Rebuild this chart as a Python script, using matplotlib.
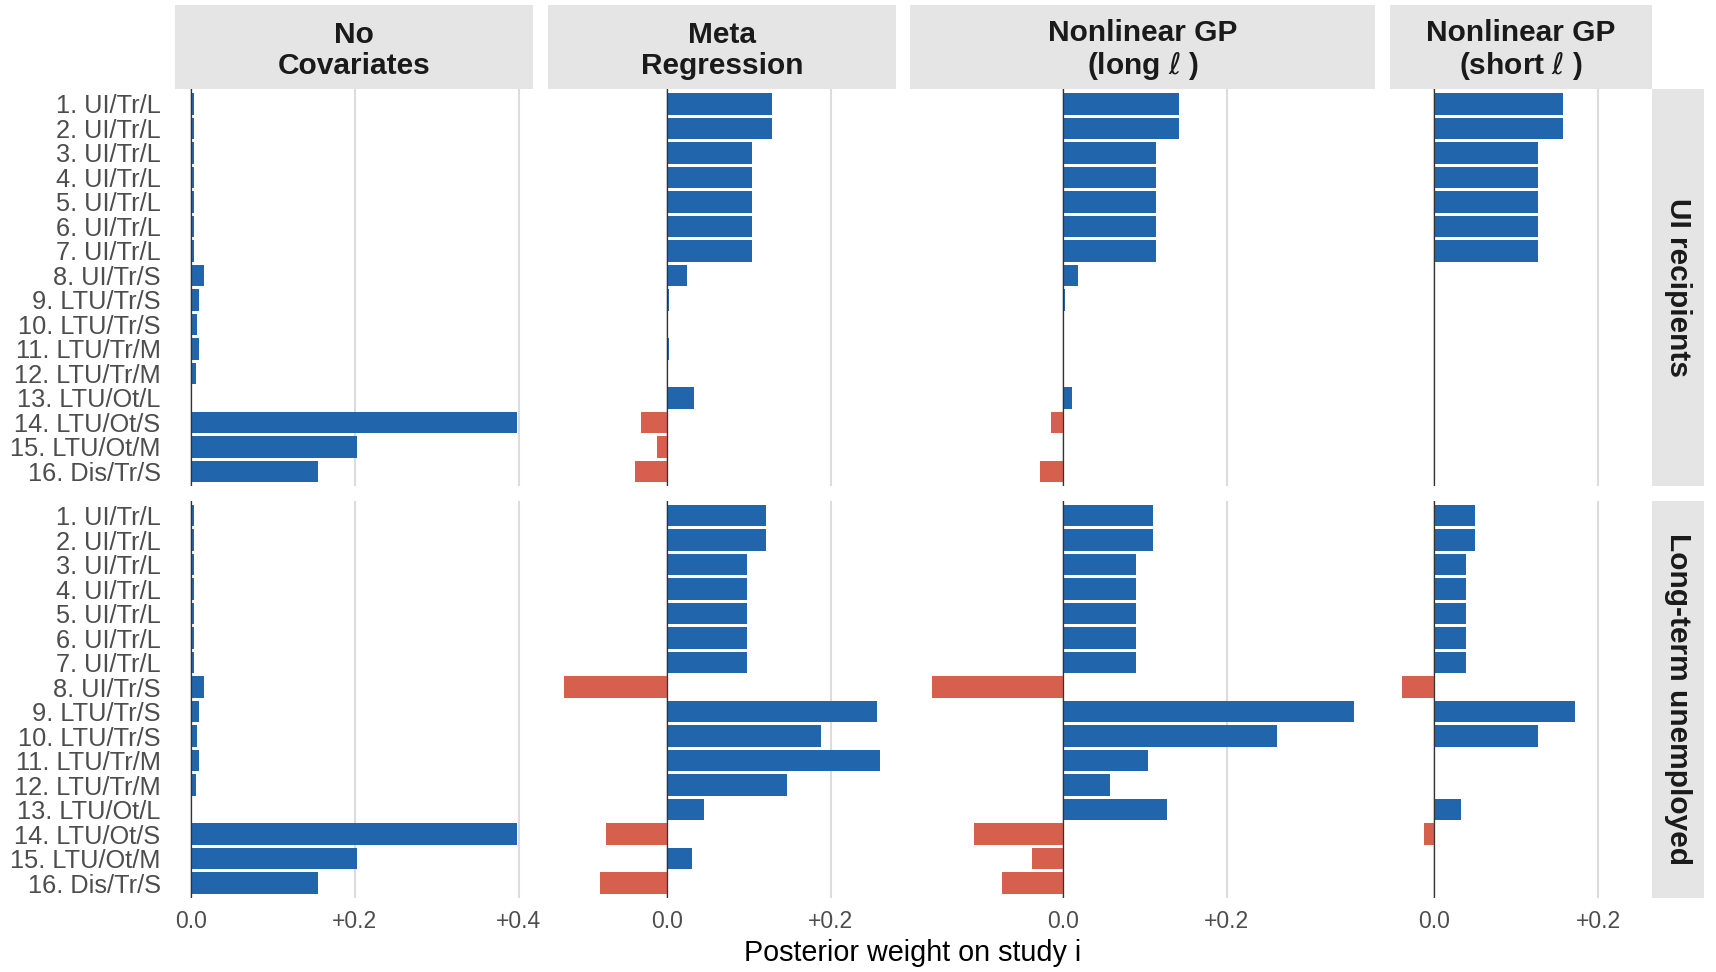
import matplotlib
matplotlib.use("Agg")
import matplotlib.pyplot as plt
from matplotlib.patches import Rectangle
from matplotlib.ticker import FuncFormatter

plt.rcParams['font.family'] = ['Liberation Sans', 'DejaVu Sans']

# ---- data ----
studies = ["1. UI/Tr/L", "2. UI/Tr/L", "3. UI/Tr/L", "4. UI/Tr/L", "5. UI/Tr/L",
           "6. UI/Tr/L", "7. UI/Tr/L", "8. UI/Tr/S", "9. LTU/Tr/S", "10. LTU/Tr/S",
           "11. LTU/Tr/M", "12. LTU/Tr/M", "13. LTU/Ot/L", "14. LTU/Ot/S",
           "15. LTU/Ot/M", "16. Dis/Tr/S"]
models = ["No\nCovariates", "Meta\nRegression", "Nonlinear GP\n(long $\\ell$ )",
          "Nonlinear GP\n(short $\\ell$ )"]
outcomes = ["UI recipients", "Long-term unemployed"]

no_cov = [0.0046, 0.0046, 0.0036, 0.0036, 0.0036, 0.0036, 0.0036, 0.016,
          0.0105, 0.0079, 0.0105, 0.0061, 0.0013, 0.398, 0.2034, 0.155]
meta_ui = [0.128, 0.128, 0.104, 0.104, 0.104, 0.104, 0.104, 0.025,
           0.002, 0.001, 0.003, 0.001, 0.033, -0.032, -0.012, -0.039]
meta_ltu = [0.121, 0.121, 0.098, 0.098, 0.098, 0.098, 0.098, -0.125,
            0.256, 0.188, 0.260, 0.146, 0.045, -0.074, 0.031, -0.082]
long_ui = [0.141, 0.141, 0.114, 0.114, 0.114, 0.114, 0.114, 0.018,
           0.002, 0.001, 0.0, 0.0, 0.011, -0.015, 0.0, -0.028]
long_ltu = [0.110, 0.110, 0.089, 0.089, 0.089, 0.089, 0.089, -0.160,
            0.355, 0.261, 0.104, 0.058, 0.127, -0.109, -0.038, -0.074]
short_ui = [0.157, 0.157, 0.127, 0.127, 0.127, 0.127, 0.127, 0.0,
            0.0, 0.0, 0.0, 0.0, 0.0, 0.0, 0.0, 0.0]
short_ltu = [0.049, 0.049, 0.039, 0.039, 0.039, 0.039, 0.039, -0.039,
             0.171, 0.126, 0.0, 0.0, 0.032, -0.013, 0.0, 0.0]

weights = [[no_cov, meta_ui, long_ui, short_ui],
           [no_cov, meta_ltu, long_ltu, short_ltu]]

# free x scales per column
xlims = [(-0.0196, 0.418), (-0.145, 0.279), (-0.186, 0.381), (-0.054, 0.265)]

BLUE = "#2166AC"
RED = "#D6604D"
STRIP = "#E5E5E5"

# ---- layout in pixels ----
W, H = 1716, 972
px_unit = 820.0
left0 = 174.5
gap = 14.7
row_tops = [89.3, 501.0]
panel_h = 396.7
strip_top = 4.7
rstrip_w = 52.5

fig = plt.figure(figsize=(W / 100, H / 100), dpi=100)

fmt = FuncFormatter(lambda v, p: "0.0" if abs(v) < 1e-9 else "%+.1f" % v)

lefts = []
x = left0
for lo, hi in xlims:
    lefts.append(x)
    x += (hi - lo) * px_unit + gap

for r in range(2):
    for c in range(4):
        lo, hi = xlims[c]
        w = (hi - lo) * px_unit
        ax = fig.add_axes([lefts[c] / W, 1 - (row_tops[r] + panel_h) / H, w / W, panel_h / H])
        vals = weights[r][c]
        cols = [RED if v < 0 else BLUE for v in vals]
        ax.barh(range(len(studies)), vals, height=0.88, color=cols, zorder=2)
        ax.axvline(0, color="#333333", lw=0.9, zorder=3)
        ax.set_xlim(lo, hi)
        ax.set_ylim(len(studies) - 0.4, -0.6)
        ax.set_xticks([t for t in (0.0, 0.2, 0.4) if lo <= t <= hi])
        ax.xaxis.set_major_formatter(fmt)
        ax.grid(axis="x", color="#DCDCDC", lw=1.5, zorder=0)
        ax.set_axisbelow(True)
        for s in ax.spines.values():
            s.set_visible(False)
        ax.tick_params(length=0, colors="#4D4D4D", labelsize=16.5)
        ax.tick_params(axis="x", pad=9)
        ax.tick_params(axis="y", pad=10, labelsize=18.3)
        ax.set_yticks(range(len(studies)))
        if c == 0:
            ax.set_yticklabels(studies)
        else:
            ax.set_yticklabels([])
        if r == 0:
            ax.set_xticklabels([])
            sh = (row_tops[0] - strip_top) / panel_h
            ax.add_patch(Rectangle((0, 1), 1, sh, transform=ax.transAxes,
                                   facecolor=STRIP, edgecolor="none", clip_on=False))
            ax.text(0.5, 1 + sh / 2 - 3.5 / panel_h, models[c], transform=ax.transAxes,
                    ha="center", va="center", fontsize=21.5, fontweight="bold",
                    color="#1A1A1A", linespacing=1.15)
        if c == 3:
            sw = rstrip_w / w
            ax.add_patch(Rectangle((1, 0), sw, 1, transform=ax.transAxes,
                                   facecolor=STRIP, edgecolor="none", clip_on=False))
            ax.text(1 + sw / 2, 0.5, outcomes[r], transform=ax.transAxes, ha="center",
                    va="center", rotation=-90, fontsize=21.5, fontweight="bold",
                    color="#1A1A1A")

right_edge = lefts[3] + (xlims[3][1] - xlims[3][0]) * px_unit
fig.text((left0 + right_edge) / 2 / W, 1 - 953 / H, "Posterior weight on study i",
         ha="center", va="center", fontsize=20.7, color="black")

fig.savefig("out.png", dpi=100, facecolor="white")
